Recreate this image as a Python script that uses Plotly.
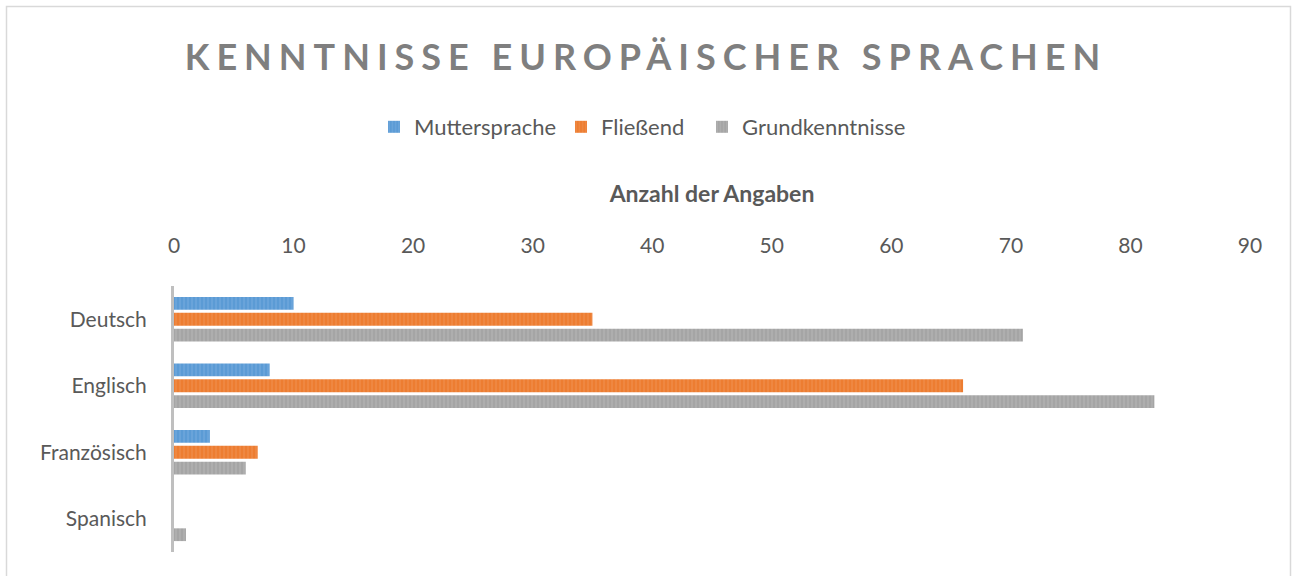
import plotly.graph_objects as go

categories = ["Deutsch", "Englisch", "Französisch", "Spanisch"]
muttersprache = [10, 8, 3, 0]
fliessend = [35, 66, 7, 0]
grundkenntnisse = [71, 82, 6, 1]
series_names = ["Muttersprache", "Fließend", "Grundkenntnisse"]
x_ticks = [0, 10, 20, 30, 40, 50, 60, 70, 80, 90]

title_text = "KENNTNISSE EUROPÄISCHER SPRACHEN"
axis_title = "Anzahl der Angaben"

colors = ["#5B9BD5", "#ED7D31", "#A5A5A5"]
stripe = ["#82B4E2", "#F29A5E", "#BEBEBE"]
FONT = "Lato"
TXT = "#595959"

L, R, T, B = 174, 42, 286, 24
W, H = 1292, 576
pw = W - L - R
ph = H - T - B

legend_text_x = [416, 603, 744]  # left edge of legend text in pixels
legend_ids = ["legend", "legend2", "legend3"]

fig = go.Figure()
for name, vals, c, s, lid in zip(series_names, [muttersprache, fliessend, grundkenntnisse], colors, stripe, legend_ids):
    fig.add_trace(go.Bar(
        y=categories, x=vals, name=name, orientation="h", legend=lid,
        marker=dict(color=c, line=dict(width=0),
                    pattern=dict(shape="|", fgcolor=s, bgcolor=c, size=4, solidity=0.35, fillmode="overlay")),
    ))

legend_common = dict(orientation="h", yanchor="middle", y=(H - B - 127) / ph,
                     xanchor="left", font=dict(family=FONT, size=22, color=TXT),
                     itemwidth=30, bgcolor="rgba(0,0,0,0)")
legends = {}
for lid, tx in zip(legend_ids, legend_text_x):
    legends[lid] = dict(legend_common, x=(tx - 42 - L) / pw)

fig.update_layout(
    width=W, height=H,
    margin=dict(l=L, r=R, t=T, b=B, autoexpand=False),
    paper_bgcolor="white", plot_bgcolor="white",
    barmode="group", bargap=0.28, bargroupgap=0.2,
    font=dict(family=FONT, color=TXT, size=21),
    title=dict(text=title_text, x=0.5, xanchor="center", xref="container",
               y=1 - 57.5 / H, yanchor="middle", yref="container",
               font=dict(family=FONT, size=36, color="#7F7F7F", weight="bold")),
    xaxis=dict(side="top", range=[0, 90], tickvals=x_ticks, showgrid=False,
               zeroline=False, showline=False, ticks="", ticklabelstandoff=28,
               tickfont=dict(size=21, color=TXT),
               title=dict(text=axis_title, standoff=22,
                          font=dict(size=23, color=TXT, weight="bold"))),
    yaxis=dict(autorange="reversed", showgrid=False, zeroline=False,
               showline=True, linecolor="#BFBFBF", linewidth=3, ticks="",
               ticklabelstandoff=20, tickfont=dict(size=21, color=TXT)),
    showlegend=True,
    **legends,
)

fig.add_shape(type="rect", xref="paper", yref="paper",
              x0=(6.5 - L) / pw, x1=(1290.5 - L) / pw,
              y0=-0.3, y1=(H - B - 6.5) / ph,
              line=dict(color="#D9D9D9", width=1.5), fillcolor="rgba(0,0,0,0)", layer="below")

post = """
document.body.style.margin='0';
document.querySelectorAll('.gtitle').forEach(function(e){e.setAttribute('letter-spacing','7px');});
"""
fig.write_html("out.html", post_script=post, config={"displayModeBar": False})
